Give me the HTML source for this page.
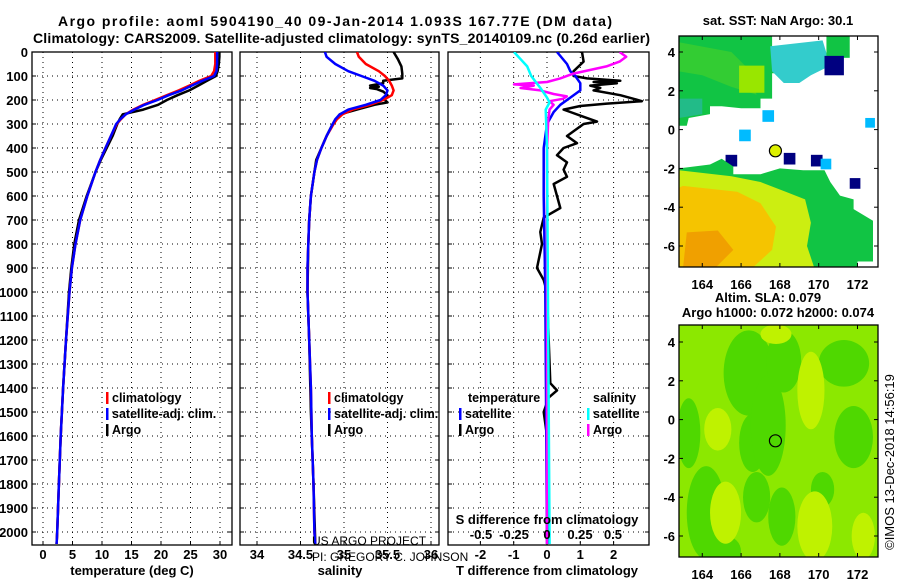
<!DOCTYPE html>
<html><head><meta charset="utf-8">
<style>
html,body{margin:0;padding:0;background:#fff;}
body{width:900px;height:580px;overflow:hidden;font-family:"Liberation Sans",sans-serif;}
svg text{font-family:"Liberation Sans",sans-serif;}
</style></head>
<body>
<svg id="chart" width="900" height="580" viewBox="0 0 900 580" xmlns="http://www.w3.org/2000/svg">
<defs>
<clipPath id="c1"><rect x="32" y="52" width="200" height="493"/></clipPath>
<clipPath id="c2"><rect x="240" y="52" width="199" height="493"/></clipPath>
<clipPath id="c3"><rect x="448" y="52" width="201" height="493"/></clipPath>
<clipPath id="cm1"><rect x="679" y="36" width="199" height="231"/></clipPath>
<clipPath id="cm2"><rect x="679" y="325" width="199" height="232"/></clipPath>
</defs>
<text x="58" y="26" font-size="14" font-weight="bold" textLength="554" lengthAdjust="spacing">Argo profile: aoml 5904190_40 09-Jan-2014 1.093S 167.77E (DM data)</text>
<text x="33" y="43" font-size="14" font-weight="bold" textLength="617" lengthAdjust="spacing">Climatology: CARS2009. Satellite-adjusted climatology: synTS_20140109.nc (0.26d earlier)</text>
<g id="g1"></g><g id="g2"></g><g id="g3"></g><g id="gm1"></g><g id="gm2"></g>
<text x="778" y="25" font-size="13" font-weight="bold" text-anchor="middle">sat. SST: NaN Argo: 30.1</text>
<text x="768" y="302" font-size="13" font-weight="bold" text-anchor="middle">Altim. SLA: 0.079</text>
<text x="778" y="317" font-size="13" font-weight="bold" text-anchor="middle">Argo h1000: 0.072 h2000: 0.074</text>
<text transform="translate(894,462) rotate(-90)" font-size="13" text-anchor="middle">©IMOS 13-Dec-2018 14:56:19</text>
<text x="312" y="545" font-size="12">US ARGO PROJECT</text>
<text x="312" y="561" font-size="12">PI: GREGORY C. JOHNSON</text>
</svg>
<script>
// ---- data (depth in m) ----
const depthGrid=[0,20,50,80,100,120,140,160,180,200,220,240,260,280,300,350,400,450,500,600,700,800,900,1000,1200,1400,1600,1800,2000,2050];
const tempClim=[29.2,29.2,29.2,29.0,28.5,26.5,24.8,23,21,19,17,15.3,14,13.2,12.5,11.5,10.6,9.7,8.9,7.5,6.3,5.5,4.9,4.5,3.9,3.4,3.0,2.7,2.4,2.3];
const tempSat=[29.5,29.5,29.5,29.4,29.0,27,25.2,23.5,21.3,19.4,17.2,15.5,14,13.1,12.4,11.5,10.6,9.7,8.9,7.5,6.3,5.5,4.9,4.5,3.9,3.4,3.0,2.7,2.4,2.3];
const argoDepth=[0,20,50,80,100,120,140,160,180,200,220,240,260,280,300,350,400,450,500,600,700,800,900,1000,1200,1400,1600,1800,2000,2050];
const tempArgo=[29.9,29.9,29.8,29.6,29.3,27.8,26.3,24.8,22.8,21,19.5,17,13.5,13,12.6,11.8,10.8,9.8,8.9,7.4,6.1,5.3,4.8,4.4,3.9,3.4,3.0,2.7,2.4,2.3];
const salClim=[35.15,35.17,35.25,35.4,35.47,35.52,35.55,35.57,35.55,35.45,35.3,35.1,34.98,34.92,34.88,34.8,34.74,34.69,34.66,34.62,34.6,34.59,34.58,34.58,34.6,34.62,34.63,34.65,34.66,34.67];
const salSat=[34.78,34.8,34.9,35.05,35.2,35.35,35.45,35.5,35.48,35.42,35.25,35.05,34.95,34.9,34.87,34.8,34.74,34.69,34.66,34.62,34.6,34.59,34.58,34.58,34.6,34.62,34.63,34.65,34.66,34.67];
const salArgoDepth=[0,30,60,90,110,120,130,140,145,150,155,165,180,200,210,220,240,260,300,350,400,450,500,600,700,800,1000,1200,1500,1800,2050];
const salArgo=[35.57,35.62,35.66,35.67,35.67,35.45,35.45,35.3,35.4,35.3,35.38,35.45,35.5,35.47,35.5,35.35,35.15,34.95,34.87,34.8,34.74,34.68,34.66,34.62,34.6,34.59,34.58,34.6,34.62,34.65,34.67];
const tdArgoDepth=[0,40,60,80,100,110,120,125,130,140,150,160,180,195,205,215,225,240,250,270,290,300,320,350,380,400,430,460,490,520,550,600,650,690,750,800,900,950,1000,1200,1380,1410,1440,1500,1600,2050];
const tdArgo=[1.05,1.1,0.95,0.8,0.8,1.2,2.2,1.4,2.1,1.3,1.6,1.4,2.2,2.6,2.85,1.8,1.0,0.5,0.7,1.1,1.5,1.1,0.9,0.6,0.9,0.5,0.3,0.6,0.5,0.6,0.2,0.3,0.4,-0.1,-0.2,-0.15,-0.3,-0.1,0,0.05,0.1,0.3,0.05,-0.1,0,0.05];
const tdSatDepth=[0,50,80,100,130,160,190,220,250,300,400,600,1000,2050];
const tdSat=[0.3,0.6,0.7,0.85,1.0,1.0,0.7,0.4,0.2,0,-0.1,-0.1,-0.05,0];
const sdArgoDepth=[0,20,40,60,90,110,125,135,140,150,160,175,185,195,205,220,240,280,400,1000,2050];
const sdArgo=[0.55,0.6,0.55,0.45,0.2,0.1,0.0,-0.25,-0.1,-0.2,-0.05,0.05,0.15,0.12,0.02,0.05,0.02,0.01,0,0,0];
const sdSatDepth=[0,30,60,100,150,190,210,240,400,2050];
const sdSat=[-0.25,-0.2,-0.15,-0.12,-0.05,0,0.02,-0.01,0.0,0.02];
const depthTicks=[0,100,200,300,400,500,600,700,800,900,1000,1100,1200,1300,1400,1500,1600,1700,1800,1900,2000];
const tempTicks=[0,5,10,15,20,25,30];
const salTicks=[34,34.5,35,35.5,36];
const tdTicks=[-2,-1,0,1,2];
const sdTicks=[-0.5,-0.25,0,0.25,0.5];
const lonTicks=[164,166,168,170,172];
const latTicks=[4,2,0,-2,-4,-6];
const argoLon=167.77, argoLat=-1.093;

const NS="http://www.w3.org/2000/svg";
function mk(tag,attrs,parent){const e=document.createElementNS(NS,tag);for(const k in attrs)e.setAttribute(k,attrs[k]);parent.appendChild(e);return e;}
const yD=d=>52+d*0.24;
const xT=t=>43+t*5.9;
const xS=s=>257+(s-34)*87;
const xTd=v=>547+v*33.3;
const xSd=v=>547+v*132;
const mxL=lon=>679+(lon-162.8)*19.4;
const myL1=lat=>52+(4-lat)*19.4;
const myL2=lat=>342+(4-lat)*19.4;

function panel(g,x0,x1,xt,xs,labelFmt,name){
  const fr=mk('rect',{x:x0,y:52,width:x1-x0,height:493,fill:'none',stroke:'#000','stroke-width':1.3},g);
  
  
  depthTicks.forEach(d=>{
    const l=mk('line',{x1:x0,x2:x1,y1:yD(d),y2:yD(d),stroke:'#000','stroke-dasharray':'1,4','stroke-width':1},g);
    
    
    mk('line',{x1:x0,x2:x0+4,y1:yD(d),y2:yD(d),stroke:'#000'},g);
    mk('line',{x1:x1-4,x2:x1,y1:yD(d),y2:yD(d),stroke:'#000'},g);
  });
  xt.forEach(v=>{
    const l=mk('line',{x1:xs(v),x2:xs(v),y1:52,y2:545,stroke:'#000','stroke-dasharray':'1,4','stroke-width':1},g);
    
    
    mk('line',{x1:xs(v),x2:xs(v),y1:541,y2:545,stroke:'#000'},g);
    if(labelFmt){const t=mk('text',{x:xs(v),y:559,'font-size':13,'font-weight':'bold','text-anchor':'middle'},g);t.textContent=labelFmt(v);
      
      }
  });
}
function line(g,clip,ds,vs,xs,color,w,name){
  const pts=ds.map((d,i)=>xs(vs[i]).toFixed(1)+','+yD(d).toFixed(1)).join(' ');
  const p=mk('polyline',{points:pts,fill:'none',stroke:color,'stroke-width':w,'clip-path':'url(#'+clip+')','stroke-linejoin':'round'},g);
  
  
}
function legend(g,x,y,items){
  items.forEach((it,i)=>{
    mk('rect',{x:x,y:y+i*16-10,width:2.5,height:12,fill:it[1]},g);
    const t=mk('text',{x:x+6,y:y+i*16,'font-size':12.5,'font-weight':'bold'},g);t.textContent=it[0];
    
    
  });
}
const g1=document.getElementById('g1'),g2=document.getElementById('g2'),g3=document.getElementById('g3');
depthTicks.forEach(d=>{const t=mk('text',{x:28,y:yD(d)+5,'font-size':13,'font-weight':'bold','text-anchor':'end'},g1);t.textContent=d;
  
  });
panel(g1,32,232,tempTicks,xT,v=>v,'temperature-panel');
panel(g2,240,439,salTicks,xS,v=>v,'salinity-panel');
panel(g3,448,649,tdTicks,xTd,v=>v,'difference-panel');
line(g1,'c1',argoDepth,tempArgo,xT,'#000',2.5,'argo-temperature-line');
line(g1,'c1',depthGrid,tempClim,xT,'#f00',2.5,'climatology-temperature-line');
line(g1,'c1',depthGrid,tempSat,xT,'#00f',2.5,'satellite-temperature-line');
line(g2,'c2',salArgoDepth,salArgo,xS,'#000',2.5,'argo-salinity-line');
line(g2,'c2',depthGrid,salClim,xS,'#f00',2.5,'climatology-salinity-line');
line(g2,'c2',depthGrid,salSat,xS,'#00f',2.5,'satellite-salinity-line');
line(g3,'c3',tdArgoDepth,tdArgo,xTd,'#000',2.5,'argo-t-difference-line');
line(g3,'c3',tdSatDepth,tdSat,xTd,'#00f',2.5,'satellite-t-difference-line');
line(g3,'c3',sdArgoDepth,sdArgo,xSd,'#f0f',2.5,'argo-s-difference-line');
line(g3,'c3',sdSatDepth,sdSat,xSd,'#0ff',2.5,'satellite-s-difference-line');
sdTicks.forEach(v=>{const t=mk('text',{x:xSd(v),y:539,'font-size':13,'font-weight':'bold','text-anchor':'middle'},g3);t.textContent=v;
  
  });
[[132,'temperature (deg C)','temperature-axis-title'],[340,'salinity','salinity-axis-title'],[547,'T difference from climatology','t-diff-axis-title']].forEach(a=>{
  const t=mk('text',{x:a[0],y:575,'font-size':13,'font-weight':'bold','text-anchor':'middle'},document.getElementById('chart'));t.textContent=a[1];
  
  });
const st=mk('text',{x:547,y:524,'font-size':13,'font-weight':'bold','text-anchor':'middle'},g3);st.textContent='S difference from climatology';


legend(g1,106,402,[['climatology','#f00'],['satellite-adj. clim.','#00f'],['Argo','#000']]);
legend(g2,328,402,[['climatology','#f00'],['satellite-adj. clim.','#00f'],['Argo','#000']]);
const tl=mk('text',{x:468,y:402,'font-size':12.5,'font-weight':'bold'},g3);tl.textContent='temperature';


legend(g3,459,418,[['satellite','#00f'],['Argo','#000']]);
const sl2=mk('text',{x:593,y:402,'font-size':12.5,'font-weight':'bold'},g3);sl2.textContent='salinity';


legend(g3,587,418,[['satellite','#0ff'],['Argo','#f0f']]);

// ---- maps ----
function poly(g,clip,pts,my,fill,name){
  const p=mk('polygon',{points:pts.map(q=>mxL(q[0]).toFixed(1)+','+my(q[1]).toFixed(1)).join(' '),fill:fill,'clip-path':'url(#'+clip+')'},g);
  
  
}
function cell(g,clip,lon,lat,sz,my,fill){
  const r=mk('rect',{x:mxL(lon),y:my(lat),width:sz*19.4,height:sz*19.4,fill:fill,'clip-path':'url(#'+clip+')'},g);
  
  
}
function mapFrame(g,top,h,my,name){
  const f=mk('rect',{x:679,y:top,width:199,height:h,fill:'none',stroke:'#000','stroke-width':1.3},g);
  
  
  lonTicks.forEach(v=>{mk('line',{x1:mxL(v),x2:mxL(v),y1:top,y2:top+4,stroke:'#000'},g);mk('line',{x1:mxL(v),x2:mxL(v),y1:top+h-4,y2:top+h,stroke:'#000'},g);
    const t=mk('text',{x:mxL(v),y:top+h+22,'font-size':13,'font-weight':'bold','text-anchor':'middle'},g);t.textContent=v;
    
    });
  latTicks.forEach(v=>{mk('line',{x1:679,x2:683,y1:my(v),y2:my(v),stroke:'#000'},g);mk('line',{x1:874,x2:878,y1:my(v),y2:my(v),stroke:'#000'},g);
    const t=mk('text',{x:675,y:my(v)+5,'font-size':13,'font-weight':'bold','text-anchor':'end'},g);t.textContent=v;
    
    });
  const c=mk('circle',{cx:mxL(argoLon),cy:my(argoLat),r:6,fill:name==='sst-map'?'#ddf000':'none',stroke:'#000','stroke-width':1.2},g);
  
  
}
const gm1=document.getElementById('gm1'),gm2=document.getElementById('gm2');
// SST map
poly(gm1,'cm1',[[162.8,4.9],[167.6,4.9],[167.6,4.3],[168.4,4.3],[168.4,2.9],[167.6,2.9],[167.6,1.6],[167,1.6],[167,1.1],[166,1.1],[165,1.2],[164.4,1.2],[164.4,0.8],[163.3,0.6],[163.2,0.2],[162.8,0.2]],myL1,'#11c444','sst-north-region');
poly(gm1,'cm1',[[162.8,4.5],[165.5,4],[166.5,3],[166.8,1.8],[165.5,2.2],[164,2.8],[162.8,3]],myL1,'#33cc33','sst-north-patch');
poly(gm1,'cm1',[[165.9,3.3],[167.2,3.3],[167.2,1.9],[165.9,1.9]],myL1,'#99e600','sst-north-yellow');
poly(gm1,'cm1',[[162.8,1.6],[164,1.6],[164,0.8],[162.8,0.6]],myL1,'#22bb88','sst-north-teal');
poly(gm1,'cm1',[[167.5,4.3],[170.2,4.6],[170.6,3.3],[169.6,2.8],[169,2.4],[168.2,2.4],[167.6,3]],myL1,'#33cccc','sst-north-cyan');
cell(gm1,'cm1',170.4,4.9,1.2,myL1,'#11c444');
cell(gm1,'cm1',170.3,3.8,1,myL1,'#000080');
cell(gm1,'cm1',167.1,1,0.6,myL1,'#00bbff');
cell(gm1,'cm1',165.9,0,0.6,myL1,'#00bbff');
cell(gm1,'cm1',172.4,0.6,0.5,myL1,'#00bbff');
cell(gm1,'cm1',165.2,-1.3,0.6,myL1,'#000080');
cell(gm1,'cm1',168.2,-1.2,0.6,myL1,'#000080');
cell(gm1,'cm1',169.6,-1.3,0.6,myL1,'#000080');
cell(gm1,'cm1',170.1,-1.5,0.55,myL1,'#00bbff');
cell(gm1,'cm1',171.6,-2.5,0.55,myL1,'#000080');
poly(gm1,'cm1',[[162.8,-2],[164.4,-1.8],[165,-1.5],[165.6,-1.9],[165.6,-2.3],[167,-2.3],[168,-2],[169.2,-2.1],[170.3,-2.1],[170.6,-2.7],[171.1,-3.4],[171.8,-3.6],[171.8,-4.1],[172.8,-4.7],[172.8,-6.8],[172,-6.8],[172,-7.2],[162.8,-7.2]],myL1,'#11c444','sst-south-green');
poly(gm1,'cm1',[[162.8,-2.1],[165.5,-2.4],[167,-2.7],[168.3,-3.2],[169.3,-3.6],[169.6,-4.8],[169.4,-6],[169.8,-7.2],[162.8,-7.2]],myL1,'#ccee11','sst-south-yellow');
poly(gm1,'cm1',[[163,-2.9],[165.8,-3.2],[167,-3.8],[167.8,-5],[167.6,-6.2],[166.5,-7.2],[162.8,-7.2],[162.8,-3]],myL1,'#f5c400','sst-south-orange');
poly(gm1,'cm1',[[163.2,-5.3],[164.8,-5.2],[165.6,-6.2],[164.6,-7.2],[163,-7.2]],myL1,'#f0a000','sst-south-deep-orange');
mapFrame(gm1,36,231,myL1,'sst-map');
// SLA map
mk('rect',{x:679,y:325,width:199,height:232,fill:'#8ce800','clip-path':'url(#cm2)'},gm2);
const blobs=[[163.3,-0.7,0.6,1.8],[164.2,-4.8,1,2.4],[166.4,2.4,1.3,2.2],[166.6,-1.2,0.7,1.5],[167.4,-0.3,0.9,2.6],[168.2,3.0,0.9,1.6],[168.1,-5,0.7,1.5],[166.8,-4,0.7,1.3],[171.3,2.9,1.3,1.2],[171.8,-0.9,1,1.6],[165.2,-6.8,0.8,0.8],[170.2,-3.6,0.6,0.9]];
blobs.forEach(b=>{const e=mk('ellipse',{cx:mxL(b[0]),cy:myL2(b[1]),rx:b[2]*19.4,ry:b[3]*19.4,fill:'#4fd800','clip-path':'url(#cm2)'},gm2);
  
  });
const hi=[[164.8,-0.5,0.7,1.1],[165.2,-4.8,0.8,1.6],[169.6,1.5,0.7,2],[169.8,-5.5,0.9,1.8],[172.3,-6,0.6,1.2],[167.8,4.4,0.8,0.5]];
hi.forEach(b=>{const e=mk('ellipse',{cx:mxL(b[0]),cy:myL2(b[1]),rx:b[2]*19.4,ry:b[3]*19.4,fill:'#bff200','clip-path':'url(#cm2)'},gm2);
  
  });
mapFrame(gm2,325,232,myL2,'sla-map');
</script>
</body></html>
